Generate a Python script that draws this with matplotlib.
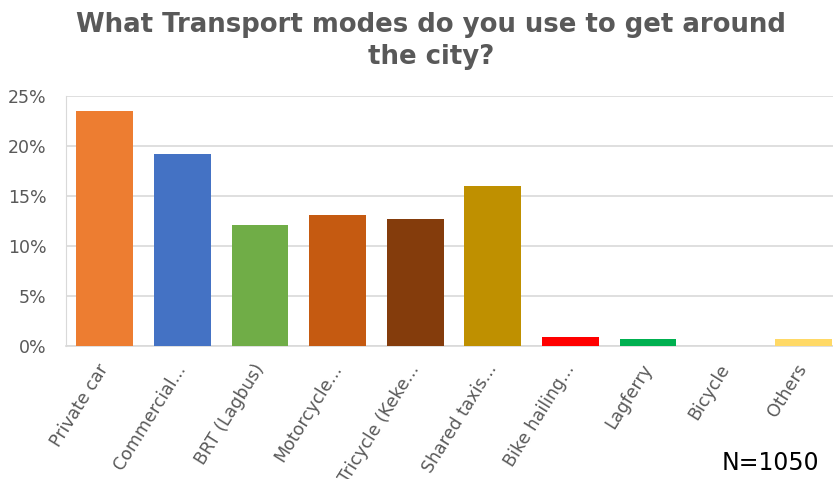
import matplotlib
matplotlib.use("Agg")
import matplotlib.pyplot as plt
from matplotlib.ticker import PercentFormatter

categories = ["Private car", "Commercial...", "BRT (Lagbus)", "Motorcycle...", "Tricycle (Keke...",
              "Shared taxis...", "Bike hailing...", "Lagferry", "Bicycle", "Others"]
values = [23.5, 19.2, 12.1, 13.1, 12.7, 16.0, 0.9, 0.75, 0.0, 0.75]
colors = ["#ED7D31", "#4472C4", "#70AD47", "#C55A11", "#843C0C",
          "#BF9000", "#FF0000", "#00B050", "#A5A5A5", "#FFD966"]
yticks = [0, 5, 10, 15, 20, 25]

fig = plt.figure(figsize=(8.33, 4.79), dpi=100)
W, H = 833, 479
ax = fig.add_axes([66 / W, (H - 346) / H, (842 - 66) / W, (346 - 96) / H])

x = range(len(categories))
ax.bar(x, values, width=0.73, color=colors, zorder=3)
ax.set_xlim(-0.5, len(categories) - 0.5)
ax.set_ylim(0, 25)
ax.set_yticks(yticks)
ax.yaxis.set_major_formatter(PercentFormatter(decimals=0))
ax.grid(axis="y", color="#D9D9D9", linewidth=1.2, zorder=0)
for s in ["top", "right"]:
    ax.spines[s].set_visible(False)
ax.spines["left"].set_color("#D9D9D9")
ax.spines["bottom"].set_color("#D9D9D9")
ax.spines["bottom"].set_linewidth(1.2)
ax.tick_params(axis="both", length=0, colors="#595959", labelsize=12.5)
ax.tick_params(axis="y", pad=14)
ax.set_xticks(list(x))
ax.set_xticklabels(categories, rotation=58, ha="right", va="center",
                   rotation_mode="anchor", fontsize=12.5, color="#595959")
ax.tick_params(axis="x", pad=14)
for lbl in ax.get_xticklabels():
    lbl.set_x(lbl.get_position()[0])

fig.text(431 / W, 1 - 41 / H, "What Transport modes do you use to get around\nthe city?",
         ha="center", va="center", fontsize=18.7, fontweight="bold", color="#595959",
         linespacing=1.27)
fig.text(770 / W, 1 - 463 / H, "N=1050", ha="center", va="center", fontsize=17, color="black")

fig.savefig("out.png", dpi=100)
